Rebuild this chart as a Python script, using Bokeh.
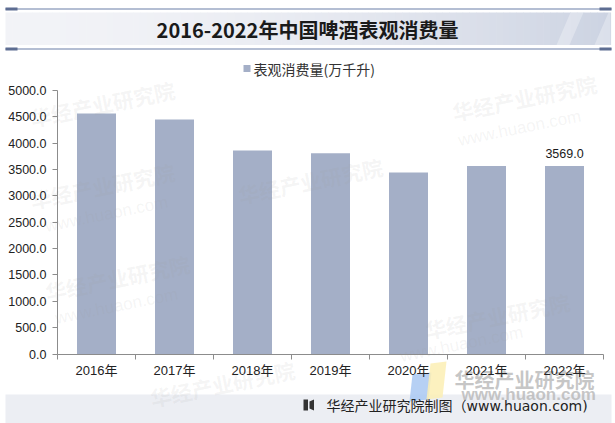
import numpy as np
from bokeh.plotting import figure
from bokeh.models import Range1d, LinearAxis, FixedTicker, PrintfTickFormatter
from bokeh.core.properties import value
from bokeh.embed import file_html
from bokeh.resources import INLINE

# ---------------- data ----------------
title_text = "2016-2022年中国啤酒表观消费量"
series_name = "表观消费量(万千升)"
years = ["2016年", "2017年", "2018年", "2019年", "2020年", "2021年", "2022年"]
consumption = [4563, 4450, 3860, 3810, 3444, 3567, 3569.0]
y_ticks = [0, 500, 1000, 1500, 2000, 2500, 3000, 3500, 4000, 4500, 5000]
source_text = "华经产业研究院制图（www.huaon.com)"
watermark = "华经产业研究院"
watermark_url = "www.huaon.com"

# ---------------- layout constants (pixels) ----------------
W, H = 615, 423
FL, FR, FT, FB = 57, 603, 90, 353.5          # chart area
BAR = "#a4afc7"
AX = "#8c8c8c"
CJK = "Noto Sans CJK SC"
LAT = "Liberation Sans, Noto Sans CJK SC"

n = len(years)
ymax = y_ticks[-1]
ux = (FR - FL) / n
uy = (FB - FT) / ymax

p = figure(width=W, height=H,
           x_range=Range1d(-FL / ux, n + (W - FR) / ux),
           y_range=Range1d(-(H - FB) / uy, ymax + FT / uy),
           x_axis_type=None, y_axis_type=None, toolbar_location=None,
           output_backend="svg", min_border=0, outline_line_color=None,
           background_fill_color="white", border_fill_color="white")
p.extra_x_ranges = {"px": Range1d(0, W)}
p.extra_y_ranges = {"py": Range1d(0, H)}
PX = dict(x_range_name="px", y_range_name="py")


def Y(v):
    return H - v


# ---------------- title band ----------------
edges = np.linspace(5, 610, 91)
mids = (edges[:-1] + edges[1:]) / 2
t = ((mids - 5) / 605) ** 1.8
c0 = np.array([242, 243, 247])
c1 = np.array([204, 211, 226])
cols = ["#%02x%02x%02x" % tuple(int(round(v)) for v in (c0 + (c1 - c0) * k)) for k in t]
p.quad(left=edges[:-1], right=edges[1:] + 0.6, top=Y(12), bottom=Y(44.5), color=cols,
       line_color=None, **PX)
p.patches(xs=[[556, 570, 583, 569], [594, 608, 610, 610, 597]],
          ys=[[Y(44.5), Y(12), Y(12), Y(44.5)], [Y(44.5), Y(12), Y(12), Y(44.5), Y(44.5)]],
          color="#ffffff", alpha=0.3, line_color=None, **PX)
p.segment(x0=[5, 5], y0=[Y(8.5), Y(48.5)], x1=[611, 611], y1=[Y(8.5), Y(48.5)],
          line_color="#9ba8c4", line_width=1.5, **PX)
p.quad(left=[5, 599, 5, 599], right=[17, 611, 17, 611],
       top=[Y(7), Y(7), Y(47), Y(47)], bottom=[Y(10), Y(10), Y(50), Y(50)],
       color="#5d6d92", line_color=None, **PX)
p.text(x=[307], y=[Y(28.5)], text=[title_text], text_align="center", text_baseline="middle",
       text_font=value(CJK), text_font_size="20px", text_font_style="bold",
       text_color="#1a1a1a", **PX)

# legend
p.quad(left=[243], right=[250], top=[Y(64.5)], bottom=[Y(71.5)], color=BAR, line_color=None, **PX)
p.text(x=[253], y=[Y(68.5)], text=[series_name], text_align="left", text_baseline="middle",
       text_font=value(CJK), text_font_size="14px", text_color="#333333", **PX)

# ---------------- footer band ----------------
p.quad(left=[5], right=[611], top=[Y(394)], bottom=[Y(423)], color="#eceef3",
       line_color=None, **PX)

# watermark logo shapes (bottom right)
p.patches(xs=[[409, 428, 431, 412], [426, 442, 446, 430]],
          ys=[[Y(401), Y(399), Y(372), Y(374)], [Y(399), Y(397), Y(361), Y(363)]],
          color=["#a9c8f2", "#fbeeb4"], alpha=0.85, line_color=None, **PX)

# ---------------- bars ----------------
xs = [i + 0.5 for i in range(n)]
p.vbar(x=xs, top=consumption, width=0.5, color=BAR, line_color=None)

p.text(x=[xs[-1]], y=[consumption[-1]], text=[f"{consumption[-1]:.1f}"], y_offset=-8,
       text_align="center", text_baseline="bottom", text_font=value(LAT),
       text_font_size="12.5px", text_color="#1a1a1a")

# faint watermarks over the plot
wm_x = [30, 452, 30, 238, 45, 425, 150]
wm_y = [118, 112, 200, 195, 292, 330, 398]
p.text(x=wm_x, y=[Y(v) for v in wm_y], text=[watermark] * len(wm_x), angle=0.2,
       text_font=value(CJK), text_font_size="21px", text_font_style="bold",
       text_color="#9a9a9a", text_alpha=0.1, text_baseline="middle", **PX)
url_x = [458, 45, 55, 400]
url_y = [140, 226, 318, 356]
p.text(x=url_x, y=[Y(v) for v in url_y], text=[watermark_url] * len(url_x), angle=0.2,
       text_font=value(LAT), text_font_size="17px", text_color="#9a9a9a", text_alpha=0.1,
       text_baseline="middle", **PX)

# ---------------- axes ----------------
yaxis = LinearAxis(ticker=FixedTicker(ticks=y_ticks), formatter=PrintfTickFormatter(format="%.1f"),
                   fixed_location=0, bounds=(0, ymax))
yaxis.axis_line_color = AX
yaxis.major_tick_line_color = AX
yaxis.major_tick_out = 5
yaxis.major_tick_in = 0
yaxis.minor_tick_line_color = None
yaxis.major_label_standoff = 6
yaxis.major_label_text_font = LAT
yaxis.major_label_text_font_size = "12.5px"
yaxis.major_label_text_color = "#222222"
p.add_layout(yaxis, "left")

xaxis = LinearAxis(ticker=FixedTicker(ticks=xs, minor_ticks=list(range(n + 1))),
                   fixed_location=0, bounds=(0, n))
xaxis.major_label_overrides = {x: lab for x, lab in zip(xs, years)}
xaxis.axis_line_color = AX
xaxis.major_tick_line_color = None
xaxis.major_tick_out = 0
xaxis.major_tick_in = 0
xaxis.minor_tick_line_color = AX
xaxis.minor_tick_out = 5
xaxis.minor_tick_in = 0
xaxis.major_label_standoff = 4
xaxis.major_label_text_font = LAT
xaxis.major_label_text_font_size = "13px"
xaxis.major_label_text_color = "#222222"
p.add_layout(xaxis, "below")

# big watermark text in the lower right (over labels)
p.text(x=[454], y=[Y(379)], text=[watermark], text_font=value(CJK), text_font_size="20px",
       text_font_style="bold", text_color="#b4b4b4", text_alpha=0.75, text_baseline="middle", **PX)
p.text(x=[461], y=[Y(394)], text=[watermark_url], text_font=value(LAT), text_font_size="17px",
       text_font_style="bold", text_color="#b4b4b4", text_alpha=0.75, text_baseline="middle", **PX)

# footer source text
p.quad(left=[303], right=[307.5], top=[Y(399)], bottom=[Y(410)], color="#333333",
       line_color=None, **PX)
p.patches(xs=[[309, 313.5, 313.5, 309]], ys=[[Y(401), Y(399), Y(410), Y(408)]],
          color="#333333", line_color=None, **PX)
p.text(x=[326], y=[Y(405.5)], text=[source_text], text_align="left", text_baseline="middle",
       text_font=value("DejaVu Sans, Noto Sans CJK SC"), text_font_size="14px",
       text_color="#222222", **PX)

open("out.html", "w").write(file_html(p, INLINE))
